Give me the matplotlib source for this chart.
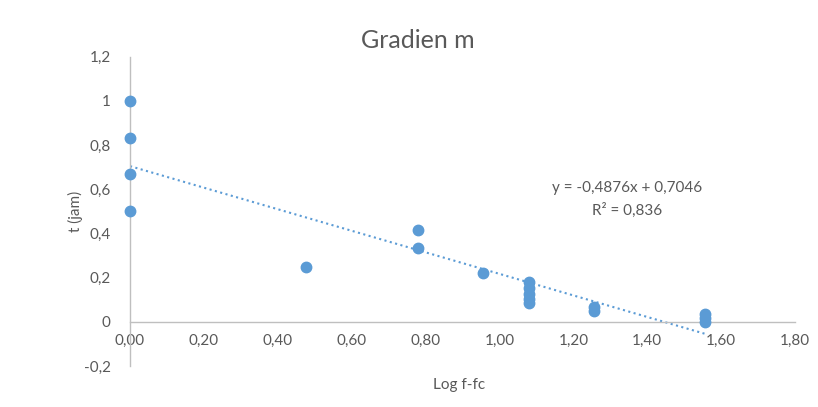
import numpy as np
import matplotlib.pyplot as plt

# data
log_ffc = [0.0, 0.0, 0.0, 0.0, 0.477, 0.778, 0.778, 0.954,
           1.079, 1.079, 1.079, 1.079, 1.079, 1.255, 1.255,
           1.556, 1.556, 1.556]
t_jam = [1.0, 0.833, 0.667, 0.5, 0.25, 0.417, 0.333, 0.222,
         0.182, 0.154, 0.125, 0.105, 0.087, 0.067, 0.05,
         0.035, 0.017, 0.0]
slope, intercept = -0.4876, 0.7046
x_ticks = [0, 0.2, 0.4, 0.6, 0.8, 1.0, 1.2, 1.4, 1.6, 1.8]
y_ticks = [-0.2, 0, 0.2, 0.4, 0.6, 0.8, 1.0, 1.2]

plt.rcParams['font.family'] = ['Lato', 'DejaVu Sans']
blue = '#5B9BD5'
grey = '#595959'

fig = plt.figure(figsize=(8.18, 4.07), dpi=100)
ax = fig.add_axes([0.159, 0.1007, 0.813, 0.76])

ax.plot(log_ffc, t_jam, 'o', color=blue, markersize=7.5, zorder=3, clip_on=False)
xf = np.array([0, max(log_ffc)])
ax.plot(xf, slope * xf + intercept, ':', color=blue, lw=1.5)

ax.set_xlim(0, 1.8)
ax.set_ylim(-0.2, 1.2)
ax.spines['left'].set_position(('data', 0))
ax.spines['bottom'].set_position(('data', 0))
for s in ['top', 'right']:
    ax.spines[s].set_visible(False)
for s in ['left', 'bottom']:
    ax.spines[s].set_color('#BFBFBF')
    ax.spines[s].set_linewidth(1)

ax.set_xticks(x_ticks)
ax.set_xticklabels([f'{v:.2f}'.replace('.', ',') for v in x_ticks])
ax.set_yticks(y_ticks)
ax.set_yticklabels([('%g' % round(v, 1)).replace('.', ',') for v in y_ticks])
ax.tick_params(length=0, labelsize=11, colors=grey, pad=9)
ax.tick_params(axis='y', pad=14)

fig.text(418 / 818, 0.90, 'Gradien m', ha='center', va='center', fontsize=18, color=grey)
fig.text(459 / 818, 0.055, 'Log f-fc', ha='center', va='center', fontsize=11, color=grey)
fig.text(0.092, 0.48, 't (jam)', ha='center', va='center', rotation=90, fontsize=11, color=grey)

ax.text(1.345, 0.606, 'y = -0,4876x + 0,7046', ha='center', va='center', fontsize=11, color=grey)
ax.text(1.345, 0.506, 'R² = 0,836', ha='center', va='center', fontsize=11, color=grey)

fig.savefig('out.png', dpi=100)
